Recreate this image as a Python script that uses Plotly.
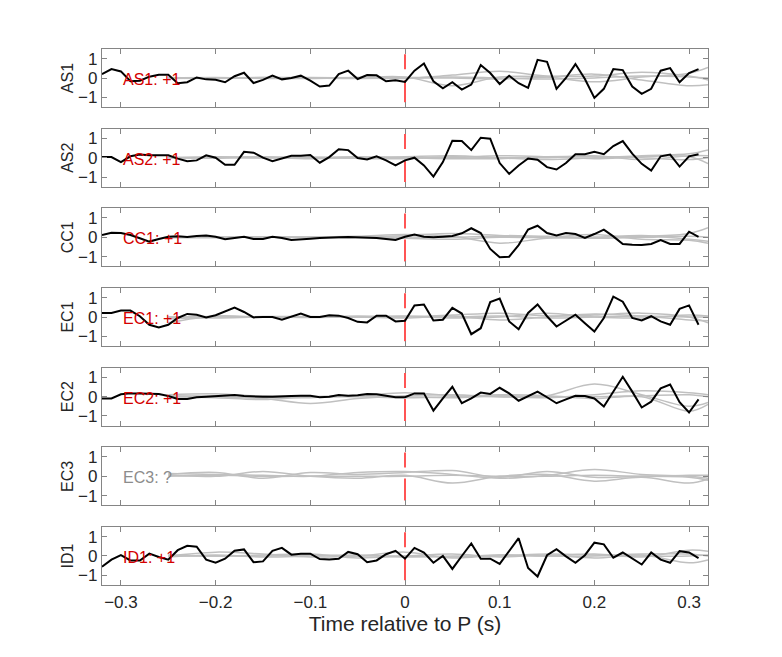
import plotly.graph_objects as go
from plotly.subplots import make_subplots

# station names and picked polarity labels
stations = ["AS1", "AS2", "CC1", "EC1", "EC2", "EC3", "ID1"]
pick_labels = ["AS1: +1", "AS2: +1", "CC1: +1", "EC1: +1", "EC2: +1", "EC3: ?", "ID1: +1"]

# tick positions and labels
x_ticks = [-0.3, -0.2, -0.1, 0, 0.1, 0.2, 0.3]
x_tick_text = ["\u22120.3", "\u22120.2", "\u22120.1", "0", "0.1", "0.2", "0.3"]
y_ticks = [-1, 0, 1]
y_tick_text = ["\u22121", "0", "1"]

# sample times of the black (stacked) traces, 0.01 s steps
t_black = [round(-0.32 + 0.01 * i, 2) for i in range(64)]

as1_black = [0.2, 0.46, 0.34, -0.17, -0.14, 0.07, 0.17, 0.17, -0.27, -0.22,
             0.03, -0.07, -0.09, -0.22, 0.09, 0.27, -0.26, -0.1, 0.12, -0.07,
             0, 0.12, -0.14, -0.44, -0.39, 0.2, 0.38, -0.05, 0.15, 0.14,
             -0.17, -0.12, -0.2, 0.38, 0.75, -0.17, -0.53, -0.22, -0.6, -0.34,
             0.67, 0.26, -0.31, 0.12, -0.27, -0.51, 0.94, 0.84, -0.56, 0,
             0.72, -0.05, -1.03, -0.56, 0.46, 0.41, -0.44, -0.82, -0.56, 0.38,
             0.51, -0.22, 0.26, 0.46]
as2_black = [0.03, 0.03, -0.23, 0.07, 0.16, 0.12, 0.12, 0.12, -0.05, -0.18,
             -0.14, 0.12, 0, -0.37, -0.37, 0.3, 0.26, 0, -0.18, -0.05,
             0.1, 0.1, 0.14, -0.26, 0.03, 0.44, 0.39, -0.02, -0.09, 0.07,
             -0.14, -0.4, -0.14, 0, -0.4, -0.98, -0.23, 0.88, 0.86, 0.39,
             1.03, 0.98, -0.28, -0.84, -0.4, -0.04, -0.11, -0.49, -0.61, -0.28,
             0.18, 0.18, 0.3, 0.18, 0.6, 0.86, 0.21, -0.32, -0.67, 0.07,
             0.16, -0.46, 0.07, 0.18]
cc1_black = [0.12, 0.24, 0.22, 0.12, -0.05, -0.22, -0.09, 0.03, 0.05, 0.02,
             0.07, 0.1, 0.03, -0.1, -0.03, 0.03, -0.09, -0.09, 0.03, -0.03,
             -0.14, -0.12, -0.07, -0.03, 0, 0, 0.02, 0, 0, -0.03,
             -0.09, -0.14, 0.03, 0.14, 0.03, 0, 0.03, 0.07, 0.21, 0.47,
             0.22, -0.6, -1.03, -1.0, -0.4, 0.4, 0.6, 0.22, 0.1, 0.22,
             0.17, -0.03, 0.17, 0.4, 0.05, -0.34, -0.38, -0.4, -0.34, -0.14,
             -0.34, -0.34, 0.29, 0.03]
ec1_black = [0.21, 0.21, 0.33, 0.33, 0.04, -0.4, -0.54, -0.4, -0.05, 0.16,
             0.12, -0.02, 0.09, 0.3, 0.49, 0.26, -0.02, 0, 0, -0.14,
             0.04, 0.18, 0, 0, 0.09, 0.07, -0.05, -0.25, -0.28, 0.07,
             0.07, -0.23, -0.19, 0.6, 0.65, -0.18, -0.14, 0.47, 0.18, -0.89,
             -0.58, 0.77, 0.95, -0.23, -0.63, 0.21, 0.65, 0.04, -0.49, -0.19,
             0.12, -0.32, -0.75, -0.05, 1.05, 0.79, -0.05, -0.18, 0.04, -0.23,
             -0.4, 0.42, 0.6, -0.4]
ec2_black = [-0.09, -0.09, 0.12, 0.17, 0.17, 0.14, 0.14, 0.03, -0.12, -0.12,
             -0.03, 0, 0.03, 0.03, 0.09, 0.03, 0, 0, 0, 0.03,
             0.03, 0.05, 0.05, -0.03, 0, 0.09, 0.05, 0.07, 0.14, 0.12,
             0.05, -0.03, -0.03, 0.17, 0.17, -0.72, -0.09, 0.51, -0.34, -0.09,
             0.21, 0.14, 0.46, 0.17, -0.21, 0.03, 0.26, -0.03, -0.34, -0.14,
             0.05, 0.03, -0.09, -0.51, 0.26, 1.03, 0.26, -0.56, -0.26, 0.43,
             0.63, -0.29, -0.82, -0.14]
id1_black = [-0.55, -0.19, 0.04, -0.23, -0.23, 0.12, -0.05, -0.19, 0.3, 0.53,
             0.48, -0.19, -0.35, -0.14, 0.27, 0.34, -0.32, -0.28, 0.27, 0.42,
             0.07, 0.12, 0.12, -0.16, -0.18, -0.14, 0.21, 0.09, -0.32, -0.23,
             0.09, 0.27, -0.14, 0.42, 0.18, -0.35, 0, -0.67, 0, 0.65,
             -0.14, -0.14, -0.41, 0.25, 0.92, -0.62, -1.06, 0.04, 0.35, -0.02,
             -0.35, 0.04, 0.69, 0.6, -0.09, 0.18, -0.14, -0.44, 0.18, -0.19,
             -0.35, 0.25, 0.18, -0.11]

# grey (synthetic) traces, coarser sampling
t_gray = [-0.25, -0.2, -0.15, -0.1, -0.05, 0, 0.05, 0.1, 0.15, 0.2, 0.25, 0.3, 0.32]

as1_gray = [[0.0, 0.02, -0.02, 0.0, 0.02, 0.05, -0.4, 0.05, 0.05, -0.2, 0.05, 0.25, 0.55],
            [0.02, 0.0, 0.03, 0.02, 0.0, -0.02, 0.15, 0.35, 0.1, 0.1, 0.3, 0.1, -0.1],
            [-0.02, 0.0, 0.0, -0.03, 0.02, 0.0, 0.0, -0.05, 0.05, 0.2, -0.1, -0.4, -0.35],
            [0.0, -0.02, 0.02, 0.0, -0.02, 0.02, 0.05, 0.0, -0.05, 0.0, 0.1, 0.05, 0.0]]
as2_gray = [[0.0, 0.05, 0.02, -0.05, 0.0, 0.05, 0.1, 0.0, -0.1, 0.0, 0.1, 0.2, 0.4],
            [0.02, -0.03, 0.05, 0.0, 0.05, 0.0, 0.0, 0.1, 0.05, -0.05, 0.05, 0.05, -0.3],
            [-0.02, 0.0, -0.02, 0.03, -0.03, -0.05, 0.05, 0.0, 0.0, 0.1, -0.1, 0.1, 0.1],
            [0.0, 0.02, 0.0, 0.0, 0.02, 0.0, -0.05, -0.05, 0.05, 0.05, 0.0, -0.1, 0.0]]
cc1_gray = [[0.0, 0.02, 0.0, 0.0, 0.05, 0.15, 0.05, -0.3, -0.05, 0.0, 0.05, 0.2, 0.5],
            [0.02, 0.0, 0.03, 0.02, 0.0, 0.1, 0.2, 0.1, 0.05, 0.0, 0.1, -0.1, -0.2],
            [-0.02, 0.0, 0.0, 0.0, -0.02, -0.05, -0.1, 0.0, 0.0, 0.15, -0.1, -0.15, -0.3],
            [0.0, -0.02, 0.02, 0.0, 0.0, 0.02, 0.0, 0.05, 0.0, -0.05, 0.0, 0.05, 0.0]]
ec1_gray = [[-0.3, 0.05, 0.0, 0.0, 0.05, 0.0, 0.1, 0.2, 0.05, 0.1, 0.2, 0.0, -0.3],
            [-0.1, 0.0, 0.02, 0.03, 0.0, 0.05, -0.05, 0.0, 0.2, 0.0, -0.05, 0.1, 0.05],
            [0.0, -0.05, 0.0, -0.02, 0.0, -0.05, 0.05, -0.15, 0.0, 0.15, 0.05, -0.15, -0.2],
            [0.0, 0.02, 0.0, 0.0, 0.0, 0.02, 0.0, 0.05, -0.05, 0.0, 0.05, 0.0, 0.0]]
ec2_gray = [[0.1, 0.15, 0.0, -0.05, 0.05, 0.2, 0.05, 0.0, 0.05, 0.65, 0.1, -0.5, -0.3],
            [0.05, 0.0, -0.1, -0.35, -0.1, 0.05, 0.1, 0.0, -0.05, 0.1, 0.3, 0.2, 0.1],
            [0.0, 0.05, 0.05, 0.0, 0.0, -0.05, 0.0, 0.1, 0.05, -0.1, 0.0, -0.75, -0.4],
            [0.0, -0.05, -0.15, 0.0, 0.05, 0.0, -0.05, 0.05, 0.0, 0.0, 0.05, 0.1, 0.0]]
ec3_gray = [[0.15, 0.1, 0.05, 0.0, 0.2, 0.25, 0.1, -0.1, 0.05, 0.35, 0.1, 0.0, -0.1],
            [0.1, 0.2, -0.1, 0.2, 0.1, 0.2, 0.3, -0.05, 0.25, -0.05, 0.0, -0.05, -0.2],
            [0.05, 0.0, 0.25, 0.0, -0.1, 0.05, -0.35, 0.0, 0.1, -0.25, -0.05, -0.35, -0.15],
            [0.0, 0.05, 0.0, 0.0, 0.0, 0.0, 0.05, 0.0, 0.0, 0.05, 0.0, 0.05, 0.05]]
id1_gray = [[0.0, 0.2, 0.1, -0.05, 0.0, 0.2, -0.1, 0.05, 0.0, 0.1, -0.05, 0.3, 0.25],
            [0.05, 0.0, 0.05, 0.1, -0.1, 0.0, 0.1, -0.05, 0.05, -0.1, 0.05, -0.35, -0.2],
            [-0.05, 0.05, -0.05, 0.0, 0.05, -0.05, 0.0, 0.0, 0.1, 0.05, 0.0, 0.0, 0.05],
            [0.0, 0.0, 0.0, 0.05, 0.0, 0.0, -0.05, 0.05, 0.0, 0.0, 0.1, 0.1, 0.0]]

black_traces = [as1_black, as2_black, cc1_black, ec1_black, ec2_black, None, id1_black]
gray_traces = [as1_gray, as2_gray, cc1_gray, ec1_gray, ec2_gray, ec3_gray, id1_gray]

# P arrival marker extent
p_time = 0
p_marker_y = [1.23, -1.27]

FONT = "Liberation Sans, Arial, Helvetica, sans-serif"
AXIS_GREY = "#858585"
TEXT = "#262626"

fig = make_subplots(rows=7, cols=1, shared_xaxes=True, vertical_spacing=0.0404)

for i, name in enumerate(stations):
    row = i + 1
    for g in gray_traces[i]:
        fig.add_trace(go.Scatter(x=t_gray, y=g, mode="lines", line_shape="spline",
                                 line=dict(color="#c0c0c0", width=1.5),
                                 showlegend=False, hoverinfo="skip"), row=row, col=1)
    fig.add_trace(go.Scatter(x=[p_time, p_time], y=p_marker_y, mode="lines",
                             line=dict(color="#ff2a2a", width=1.6, dash="15px,11px,22px"),
                             showlegend=False, hoverinfo="skip"), row=row, col=1)
    if black_traces[i] is not None:
        fig.add_trace(go.Scatter(x=t_black, y=black_traces[i], mode="lines",
                                 line=dict(color="black", width=2),
                                 showlegend=False), row=row, col=1)
    label_color = "#8c8c8c" if "?" in pick_labels[i] else "#d40000"
    fig.add_annotation(x=-0.3, y=-0.08, text=pick_labels[i], showarrow=False,
                       xanchor="left", yanchor="middle",
                       font=dict(family=FONT, size=16, color=label_color),
                       xref="x" if row == 1 else f"x{row}",
                       yref="y" if row == 1 else f"y{row}")
    fig.update_yaxes(title_text=name, title_font=dict(family=FONT, size=16, color=TEXT),
                     title_standoff=0, row=row, col=1)

fig.update_xaxes(range=[-0.32, 0.32], tickvals=x_ticks, ticktext=x_tick_text,
                 ticks="inside", ticklen=5, tickcolor=AXIS_GREY, tickwidth=1,
                 showline=True, linecolor=AXIS_GREY, linewidth=1.2, mirror="ticks",
                 showgrid=False, zeroline=False, automargin=False, ticklabelstandoff=1,
                 tickfont=dict(family=FONT, size=17, color=TEXT))
fig.update_xaxes(title_text="Time relative to P (s)",
                 title_font=dict(family=FONT, size=21, color=TEXT),
                 title_standoff=5, row=7, col=1)
fig.update_yaxes(range=[-1.5, 1.5], tickvals=y_ticks, ticktext=y_tick_text,
                 ticks="inside", ticklen=5, tickcolor=AXIS_GREY, tickwidth=1,
                 showline=True, linecolor=AXIS_GREY, linewidth=1.2, mirror="ticks",
                 showgrid=False, zeroline=False, automargin=False,
                 tickfont=dict(family=FONT, size=17, color=TEXT))

# the page body adds an 8px offset, so the figure is drawn slightly smaller
fig.update_layout(width=774, height=649, plot_bgcolor="white", paper_bgcolor="white",
                  margin=dict(l=94, r=74, t=41, b=72), showlegend=False)

fig.write_html("out.html")
